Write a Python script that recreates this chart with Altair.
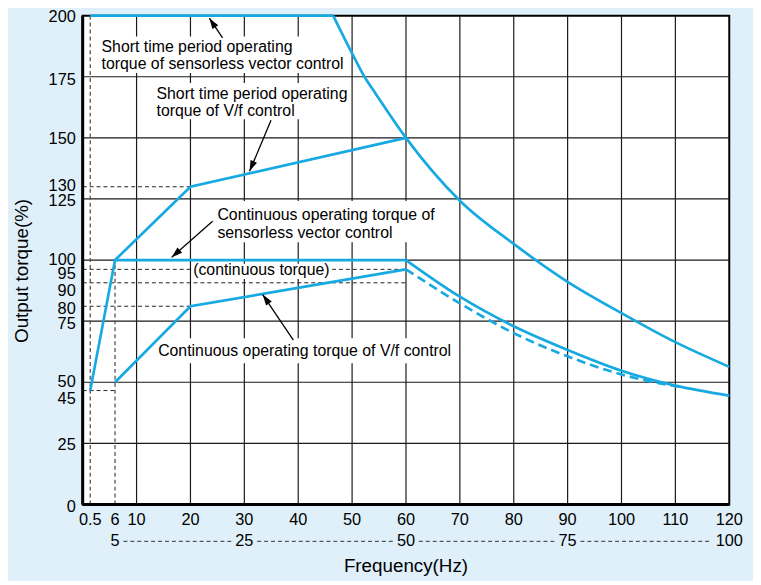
import altair as alt
import pandas as pd

FONT = "Liberation Sans"
BLUE = "#17A9E1"
BG = "#DFF0FB"

# ---- axis ticks -----------------------------------------------------------
X_LOW = 1.4  # where the "0.5 Hz" line is drawn in the picture
x_ticks = [X_LOW, 6, 10, 20, 30, 40, 50, 60, 70, 80, 90, 100, 110, 120]
x_tick_labels = ["0.5", "6", "10", "20", "30", "40", "50", "60", "70", "80",
                 "90", "100", "110", "120"]
y_tick_labels = ["0", "25", "45", "50", "75", "80", "90", "95", "100", "125",
                 "130", "150", "175", "200"]
# height at which each torque label is printed in the picture (labels are spread
# apart where they crowd)
y_label_at = [-0.9, 24.5, 43.3, 50.2, 73.8, 80.0, 87.3, 94.2, 100, 124.3,
              130.4, 149.4, 173.8, 199.3]
grid_x = [10, 20, 30, 40, 50, 60, 70, 80, 90, 100, 110]
grid_y = [25, 50, 75, 100, 125, 150, 175]
x_title = "Frequency(Hz)"
y_title = "Output torque(%)"

# second row of frequency labels (percent of 120 Hz)
pct_pos = [6, 30, 60, 90, 120]
pct_lab = ["5", "25", "50", "75", "100"]

# ---- torque curves --------------------------------------------------------
sv_short_flat_f = [X_LOW, 46.5]
sv_short_flat_t = [200, 200]
sv_short_curve_f = [46.5, 50, 52.3, 54.4, 60, 70, 80, 90, 100, 110, 120]
sv_short_curve_t = [200, 184.6, 175, 168, 150, 124.3, 106.6, 91.1, 78.3, 66.4, 56.3]
vf_short_f = [6, 20, 60]
vf_short_t = [100, 130, 150]
sv_cont_lin_f = [X_LOW, 6, 60]
sv_cont_lin_t = [46.6, 100, 100]
sv_cont_curve_f = [60, 70, 80, 90, 100, 110, 120]
sv_cont_curve_t = [100, 85.0, 72.9, 63.2, 54.7, 48.6, 44.5]
vf_cont_f = [6, 20, 60]
vf_cont_t = [50, 81.1, 96.2]
vf_cont_hi_f = [60, 70, 80, 90, 100, 107, 111]
vf_cont_hi_t = [96.2, 82.3, 70.1, 60.6, 53.2, 49.6, 48.1]

# dashed reference lines
dash_h_t = [130, 96.2, 90.7, 81.1, 46.6]
dash_h_end = [20, 60, 60, 20, 6]
dash_v_f = [X_LOW, 6]
dash_v_top = [200, 100]

# annotations
note_x = [3.5, 13.7, 25.0, 20.5, 14.0]
note_y = [185.3, 166.0, 116.3, 93.7, 60.6]
note_lines = [
    ["Short time period operating", "torque of sensorless vector control"],
    ["Short time period operating", "torque of V/f control"],
    ["Continuous operating torque of", "sensorless vector control"],
    ["(continuous torque)"],
    ["Continuous operating torque of V/f control"],
]
box_x1 = [3.0, 13.1, 24.3, 20.3, 13.3]
box_x2 = [48.9, 49.3, 65.8, 46.3, 68.7]
box_y1 = [176.5, 157.6, 107.3, 92.2, 57.8]
box_y2 = [191.5, 172.5, 124.2, 98.5, 68.0]

# arrows: tail -> head
arr_tx = [25.96, 34.95, 24.1, 39.1]
arr_ty = [190.9, 157.2, 115.9, 67.2]
arr_hx = [23.5, 30.97, 16.5, 33.4]
arr_hy = [199.0, 136.3, 101.1, 85.9]
arr_ang = [326.4, 202.8, 228.7, 324.8]

# ---- layout ---------------------------------------------------------------
W, H = 653.5, 494
PAD = {"left": 75.5, "top": 4.7, "right": 24, "bottom": 74}
ROW1_Y = H + 15.5
ROW2_Y = 531.3
TICK_FS = 16.5

xs = alt.Scale(domain=[0, 120], nice=False, zero=False)
ys = alt.Scale(domain=[0, 200], nice=False, zero=False)


def X(field, **kw):
    return alt.X(field, type="quantitative", scale=xs, axis=None, **kw)


def Y(field, **kw):
    return alt.Y(field, type="quantitative", scale=ys, axis=None, **kw)


gridx = alt.Chart(pd.DataFrame({"gx": grid_x})).mark_rule(
    color="#1a1a1a", strokeWidth=1.2).encode(x=X("gx"))
gridy = alt.Chart(pd.DataFrame({"gy": grid_y})).mark_rule(
    color="#1a1a1a", strokeWidth=1.2).encode(y=Y("gy"))

dh = pd.DataFrame({"t": dash_h_t, "x0": [0] * len(dash_h_t), "x1": dash_h_end})
dash_h = alt.Chart(dh).mark_rule(color="#222", strokeWidth=1, strokeDash=[4, 3]).encode(
    x=X("x0"), x2="x1", y=Y("t"))
dv = pd.DataFrame({"f": dash_v_f, "b": [0] * len(dash_v_f), "top": dash_v_top})
dash_v = alt.Chart(dv).mark_rule(color="#555", strokeWidth=1.3, strokeDash=[4, 3]).encode(
    x=X("f"), y=Y("b"), y2="top")

boxes = alt.Chart(pd.DataFrame({"x1": box_x1, "x2": box_x2, "y1": box_y1, "y2": box_y2})).mark_rect(
    color="white").encode(x=X("x1"), x2="x2", y=Y("y1"), y2="y2")


def series(name, f, t):
    return pd.DataFrame({"s": name, "f": f, "t": t})


lin_df = pd.concat([
    series("sv_short_flat", sv_short_flat_f, sv_short_flat_t),
    series("vf_short", vf_short_f, vf_short_t),
    series("sv_cont_lin", sv_cont_lin_f, sv_cont_lin_t),
    series("vf_cont", vf_cont_f, vf_cont_t),
])
curve_df = pd.concat([
    series("sv_short_curve", sv_short_curve_f, sv_short_curve_t),
    series("sv_cont_curve", sv_cont_curve_f, sv_cont_curve_t),
])
dash_df = series("vf_cont_hi", vf_cont_hi_f, vf_cont_hi_t)

lines_lin = alt.Chart(lin_df).mark_line(color=BLUE, strokeWidth=2.7).encode(
    x=X("f"), y=Y("t"), detail="s:N")
lines_curve = alt.Chart(curve_df).mark_line(color=BLUE, strokeWidth=2.7, interpolate="monotone").encode(
    x=X("f"), y=Y("t"), detail="s:N")
lines_dash = alt.Chart(dash_df).mark_line(
    color=BLUE, strokeWidth=2.7, interpolate="monotone", strokeDash=[9, 5]).encode(
    x=X("f"), y=Y("t"))

notes = alt.Chart(alt.Data(values=[
    {"x": a, "y": b, "txt": c} for a, b, c in zip(note_x, note_y, note_lines)
])).mark_text(align="left", baseline="alphabetic", font=FONT, fontSize=16,
              lineHeight=17.5, color="black").encode(x=X("x"), y=Y("y"), text="txt:N")

arr_df = pd.DataFrame({"tx": arr_tx, "ty": arr_ty, "hx": arr_hx, "hy": arr_hy, "ang": arr_ang})
arrow_line = alt.Chart(arr_df).mark_rule(color="black", strokeWidth=1.3).encode(
    x=X("tx"), y=Y("ty"), x2="hx", y2="hy")
arrow_head = alt.Chart(arr_df).mark_point(
    shape="M0,0 L-0.32,1 L0.32,1 Z", filled=True, color="black", opacity=1, size=484,
    strokeWidth=0).encode(x=X("hx"), y=Y("hy"), angle=alt.Angle("ang:Q", scale=None))

# ---- axes drawn with the chart's scales ------------------------------------
frame_left = alt.Chart(pd.DataFrame({"v": [0]})).mark_rule(color="black", strokeWidth=3).encode(
    x=X("v"))
frame_bottom = alt.Chart(pd.DataFrame({"v": [0]})).mark_rule(color="black", strokeWidth=3).encode(
    y=Y("v"))
ylabels = alt.Chart(pd.DataFrame({"t": y_label_at, "lab": y_tick_labels})).mark_text(
    align="right", baseline="middle", font=FONT, fontSize=TICK_FS, color="black").encode(
    x=alt.value(-7), y=Y("t"), text="lab:N")
xlabels = alt.Chart(pd.DataFrame({"f": x_ticks, "lab": x_tick_labels})).mark_text(
    align="center", baseline="middle", font=FONT, fontSize=TICK_FS, color="black").encode(
    x=X("f"), y=alt.value(ROW1_Y), text="lab:N")
xtitle = alt.Chart(alt.Data(values=[{"txt": x_title}])).mark_text(
    align="center", baseline="alphabetic", font=FONT, fontSize=19, color="black").encode(
    x=alt.value(W / 2), y=alt.value(H + 68.5), text="txt:N")
ytitle = alt.Chart(alt.Data(values=[{"txt": y_title}])).mark_text(
    align="center", baseline="alphabetic", font=FONT, fontSize=19, color="black",
    angle=270).encode(x=alt.value(-55), y=alt.value(258), text="txt:N")

px_per_hz = W / 120.0
seg_x1, seg_x2 = [], []
for i in range(len(pct_pos) - 1):
    seg_x1.append(pct_pos[i] + (len(pct_lab[i]) * 4.5 + 4) / px_per_hz)
    seg_x2.append(pct_pos[i + 1] - (len(pct_lab[i + 1]) * 4.5 + 4) / px_per_hz)
row2_text = alt.Chart(pd.DataFrame({"f": pct_pos, "lab": pct_lab})).mark_text(
    align="center", baseline="middle", font=FONT, fontSize=TICK_FS, color="black").encode(
    x=X("f"), y=alt.value(ROW2_Y), text="lab:N")
row2_dash = alt.Chart(pd.DataFrame({"a": seg_x1, "b": seg_x2})).mark_rule(
    color="#333", strokeWidth=1, strokeDash=[4, 3]).encode(
    x=X("a"), x2="b", y=alt.value(ROW2_Y))

chart = alt.layer(
    gridx, gridy, dash_h, dash_v, boxes,
    lines_lin, lines_curve, lines_dash,
    notes, arrow_line, arrow_head,
    frame_left, frame_bottom, ylabels, xlabels, xtitle, ytitle,
    row2_dash, row2_text,
).properties(
    width=W, height=H, padding=PAD,
    autosize=alt.AutoSizeParams(type="none"),
    background=BG,
).configure_view(
    fill="white", stroke="black", strokeWidth=2,
)

chart.save("out.html", embed_options={"renderer": "svg", "actions": False})
